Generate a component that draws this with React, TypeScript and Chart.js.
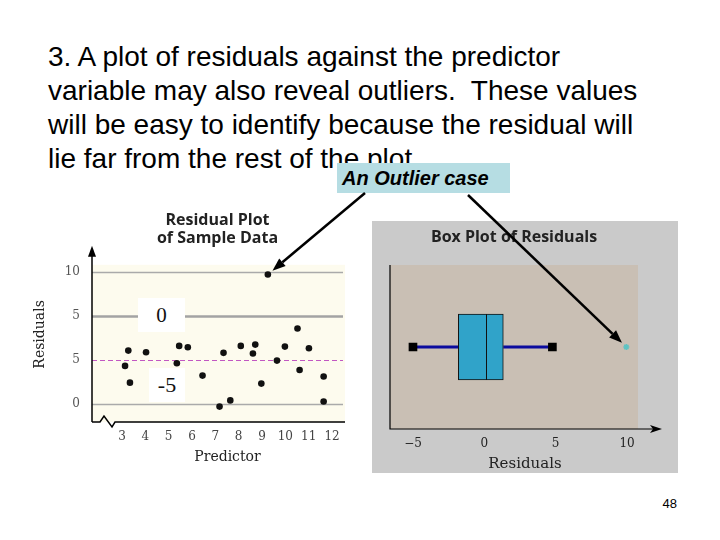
import React, { useEffect, useRef } from "react";
import { Chart, registerables } from "chart.js";
Chart.register(...registerables);

// ---------- text ----------
const headingLines = [
  "3. A plot of residuals against the predictor",
  "variable may also reveal outliers.  These values",
  "will be easy to identify because the residual will",
  "lie far from the rest of the plot.",
];
const calloutText = "An Outlier case";
const pageNumber = "48";
const residualPlotTitle = ["Residual Plot", "of Sample Data"];
const boxPlotTitle = "Box Plot of Residuals";

// ---------- residual plot data ----------
const predictor = [3.13, 3.27, 3.34, 4.03, 5.35, 5.45, 5.82, 6.45, 7.18, 7.35, 7.64, 8.09, 8.61, 8.71, 8.97, 9.25, 9.64, 9.98, 10.52, 10.61, 11.01, 11.64, 11.64];
const residuals = [-0.68, 1.06, -2.58, 0.87, -0.38, 1.59, 1.44, -1.78, -5.3, 0.8, -4.6, 1.59, 0.72, 1.74, -2.69, 9.7, -0.08, 1.51, 3.56, -1.14, 1.33, -1.89, -4.73];
const predictorTicks = [3, 4, 5, 6, 7, 8, 9, 10, 11, 12];
const residualTickValues = [-5, 0, 5, 10];
const residualTickLabels = ["0", "5", "5", "10"];
const overlayLabels = ["0", "-5"];

// ---------- box plot data ----------
const boxCategory = ["Residuals"];
const whiskerLow = [-5.0];
const quartile1 = [-1.82];
const medianValue = [0.14];
const quartile3 = [1.33];
const whiskerHigh = [4.77];
const outliers = [9.95];
const boxTickValues = [-5, 0, 5, 10];
const boxTickLabels = ["\u22125", "0", "5", "10"];

const SERIF = "'DejaVu Serif', serif";
const SANS_TITLE = "'Open Sans', 'DejaVu Sans', sans-serif";

const C1 = { left: 30, top: 205, w: 318, h: 265 };
const C2 = { left: 372, top: 221, w: 306, h: 252 };

const residualDecor = {
  id: "residualDecor",
  beforeDatasetsDraw(chart: any) {
    const { ctx, chartArea: a, scales } = chart;
    const y = scales.y;
    ctx.save();
    ctx.fillStyle = "#fdfbee";
    ctx.fillRect(a.left, a.top, a.right - a.left + 2, a.bottom - a.top);
    residualTickValues.forEach((v) => {
      const py = Math.round(y.getPixelForValue(v)) + 0.5;
      ctx.beginPath();
      if (v === 0) {
        ctx.strokeStyle = "#c257c2";
        ctx.setLineDash([5, 3]);
        ctx.lineWidth = 1;
      } else if (v === 5) {
        ctx.strokeStyle = "#a3a3a3";
        ctx.setLineDash([]);
        ctx.lineWidth = 2.5;
      } else {
        ctx.strokeStyle = "#aaaaaa";
        ctx.setLineDash([]);
        ctx.lineWidth = 1.5;
      }
      ctx.moveTo(a.left, py);
      ctx.lineTo(a.right, py);
      ctx.stroke();
    });
    ctx.setLineDash([]);
    ctx.strokeStyle = "#000";
    ctx.fillStyle = "#000";
    ctx.lineWidth = 1.5;
    ctx.beginPath();
    ctx.moveTo(a.left, a.bottom);
    ctx.lineTo(a.left, a.top - 12);
    ctx.stroke();
    ctx.beginPath();
    ctx.moveTo(a.left, a.top - 19);
    ctx.lineTo(a.left - 4, a.top - 8);
    ctx.lineTo(a.left + 4, a.top - 8);
    ctx.closePath();
    ctx.fill();
    ctx.beginPath();
    ctx.moveTo(a.left, a.bottom);
    ctx.lineTo(a.left + 8, a.bottom);
    ctx.lineTo(a.left + 12, a.bottom - 6);
    ctx.lineTo(a.left + 20, a.bottom + 5);
    ctx.lineTo(a.left + 23, a.bottom);
    ctx.lineTo(a.right + 2, a.bottom);
    ctx.stroke();
    ctx.restore();
  },
  afterDraw(chart: any) {
    const { ctx, chartArea: a } = chart;
    ctx.save();
    ctx.font = `14px ${SERIF}`;
    ctx.fillStyle = "#222";
    ctx.textAlign = "center";
    ctx.textBaseline = "middle";
    ctx.fillText("Predictor", (a.left + a.right) / 2 + 10, a.bottom + 35);
    ctx.translate(10, (a.top + a.bottom) / 2 - 9);
    ctx.rotate(-Math.PI / 2);
    ctx.fillText("Residuals", 0, 0);
    ctx.restore();
  },
};

const boxDecor = {
  id: "boxDecor",
  beforeDatasetsDraw(chart: any) {
    const { ctx, chartArea: a } = chart;
    ctx.save();
    ctx.fillStyle = "#c9bfb4";
    ctx.fillRect(a.left, a.top, a.right - a.left, a.bottom - a.top);
    ctx.strokeStyle = "#000";
    ctx.fillStyle = "#000";
    ctx.lineWidth = 1.2;
    ctx.beginPath();
    ctx.moveTo(a.left, a.top);
    ctx.lineTo(a.left, a.bottom);
    ctx.lineTo(a.right + 18, a.bottom);
    ctx.stroke();
    ctx.beginPath();
    ctx.moveTo(a.right + 24, a.bottom);
    ctx.lineTo(a.right + 12, a.bottom - 4);
    ctx.lineTo(a.right + 15, a.bottom);
    ctx.lineTo(a.right + 12, a.bottom + 4);
    ctx.closePath();
    ctx.fill();
    ctx.restore();
  },
  afterDatasetsDraw(chart: any) {
    const { ctx, scales } = chart;
    const bar: any = chart.getDatasetMeta(0).data[0];
    if (!bar) return;
    const px = Math.round(scales.x.getPixelForValue(medianValue[0])) + 0.5;
    ctx.save();
    ctx.strokeStyle = "#111";
    ctx.lineWidth = 1;
    ctx.beginPath();
    ctx.moveTo(px, bar.y - bar.height / 2);
    ctx.lineTo(px, bar.y + bar.height / 2);
    ctx.stroke();
    ctx.restore();
  },
  afterDraw(chart: any) {
    const { ctx, chartArea: a } = chart;
    ctx.save();
    ctx.font = `15px ${SERIF}`;
    ctx.fillStyle = "#222";
    ctx.textAlign = "center";
    ctx.textBaseline = "middle";
    ctx.fillText("Residuals", (a.left + a.right) / 2 + 11, a.bottom + 35);
    ctx.restore();
  },
};

function drawArrow(ctx: CanvasRenderingContext2D, x0: number, y0: number, x1: number, y1: number, gap: number) {
  const dx = x1 - x0;
  const dy = y1 - y0;
  const len = Math.hypot(dx, dy);
  const ux = dx / len;
  const uy = dy / len;
  const tx = x1 - ux * gap;
  const ty = y1 - uy * gap;
  const head = 13;
  const hw = 5;
  const bx = tx - ux * head;
  const by = ty - uy * head;
  ctx.save();
  ctx.strokeStyle = "#000";
  ctx.fillStyle = "#000";
  ctx.lineWidth = 2.5;
  ctx.beginPath();
  ctx.moveTo(x0, y0);
  ctx.lineTo(bx, by);
  ctx.stroke();
  ctx.beginPath();
  ctx.moveTo(tx, ty);
  ctx.lineTo(bx - uy * hw, by + ux * hw);
  ctx.lineTo(bx + uy * hw, by - ux * hw);
  ctx.closePath();
  ctx.fill();
  ctx.restore();
}

export default function App() {
  const c1 = useRef<HTMLCanvasElement>(null);
  const c2 = useRef<HTMLCanvasElement>(null);
  const ov = useRef<HTMLCanvasElement>(null);

  useEffect(() => {
    const ch1 = new Chart(c1.current as HTMLCanvasElement, {
      type: "scatter",
      data: {
        datasets: [
          {
            data: predictor.map((x, i) => ({ x, y: residuals[i] })),
            backgroundColor: "#111",
            borderColor: "#111",
            pointRadius: 3.3,
            pointHoverRadius: 3.3,
            borderWidth: 0,
          },
        ],
      },
      options: {
        animation: false,
        responsive: false,
        events: [],
        layout: { padding: { left: 0, right: 5, top: 0, bottom: 0 } },
        plugins: {
          legend: { display: false },
          tooltip: { enabled: false },
          title: {
            display: true,
            fullSize: false,
            text: residualPlotTitle,
            color: "#222",
            font: { family: SANS_TITLE, size: 16, weight: "bold", lineHeight: 1.15 },
            padding: { top: 6, bottom: 17 },
          },
        },
        scales: {
          x: {
            type: "linear",
            min: 1.714,
            max: 12.47,
            grid: { display: false, drawTicks: false },
            border: { display: false },
            afterBuildTicks: (s: any) => {
              s.ticks = predictorTicks.map((v) => ({ value: v }));
            },
            ticks: { font: { family: SERIF, size: 12 }, color: "#444", padding: 8, autoSkip: false, maxRotation: 0 },
            afterFit: (s: any) => {
              s.height = 48;
            },
          },
          y: {
            type: "linear",
            min: -7.05,
            max: 10.8,
            grid: { display: false, drawTicks: false },
            border: { display: false },
            afterBuildTicks: (s: any) => {
              s.ticks = residualTickValues.map((v) => ({ value: v }));
            },
            ticks: {
              font: { family: SERIF, size: 12 },
              color: "#555",
              padding: 12,
              callback: (v: any) => residualTickLabels[residualTickValues.indexOf(Number(v))],
            },
            afterFit: (s: any) => {
              s.width = 62;
            },
          },
        },
      } as any,
      plugins: [residualDecor],
    });

    const ch2 = new Chart(c2.current as HTMLCanvasElement, {
      type: "bar",
      data: {
        labels: boxCategory,
        datasets: [
          {
            type: "bar",
            data: [[quartile1[0], quartile3[0]]],
            backgroundColor: "#30a3c9",
            borderColor: "#111",
            borderWidth: 1,
            borderSkipped: false,
            barThickness: 66,
            order: 0,
          } as any,
          {
            type: "line",
            data: [
              { x: whiskerLow[0], y: boxCategory[0] },
              { x: quartile1[0], y: boxCategory[0] },
            ],
            borderColor: "#0b0b9e",
            borderWidth: 3,
            pointStyle: "rect",
            pointRadius: [4, 0],
            pointBackgroundColor: "#000",
            pointBorderColor: "#000",
            order: 1,
          } as any,
          {
            type: "line",
            data: [
              { x: quartile3[0], y: boxCategory[0] },
              { x: whiskerHigh[0], y: boxCategory[0] },
            ],
            borderColor: "#0b0b9e",
            borderWidth: 3,
            pointStyle: "rect",
            pointRadius: [0, 4],
            pointBackgroundColor: "#000",
            pointBorderColor: "#000",
            order: 1,
          } as any,
          {
            type: "line",
            showLine: false,
            data: outliers.map((x) => ({ x, y: boxCategory[0] })),
            pointStyle: "star",
            pointRadius: 3,
            borderWidth: 1.5,
            pointBorderColor: "#5fc3c3",
            pointBackgroundColor: "#8fd8d8",
            order: 1,
          } as any,
        ],
      },
      options: {
        animation: false,
        responsive: false,
        events: [],
        indexAxis: "y",
        layout: { padding: { left: 18, right: 40, top: 0, bottom: 0 } },
        plugins: {
          legend: { display: false },
          tooltip: { enabled: false },
          title: {
            display: true,
            fullSize: false,
            text: boxPlotTitle,
            color: "#222",
            font: { family: SANS_TITLE, size: 16, weight: "bold", lineHeight: 1.2 },
            padding: { top: 7, bottom: 17.8 },
          },
        },
        scales: {
          x: {
            type: "linear",
            min: -6.61,
            max: 10.77,
            grid: { display: false, drawTicks: false },
            border: { display: false },
            afterBuildTicks: (s: any) => {
              s.ticks = boxTickValues.map((v) => ({ value: v }));
            },
            ticks: {
              font: { family: SERIF, size: 12 },
              color: "#222",
              padding: 8,
              autoSkip: false,
              maxRotation: 0,
              callback: (v: any) => boxTickLabels[boxTickValues.indexOf(Number(v))],
            },
            afterFit: (s: any) => {
              s.height = 44;
            },
          },
          y: {
            type: "category",
            display: false,
            offset: true,
            grid: { display: false },
          },
        },
      } as any,
      plugins: [boxDecor],
    });

    const octx = (ov.current as HTMLCanvasElement).getContext("2d") as CanvasRenderingContext2D;
    octx.clearRect(0, 0, 720, 540);
    const outIdx = residuals.indexOf(Math.max(...residuals));
    const p1: any = ch1.getDatasetMeta(0).data[outIdx];
    const p2: any = ch2.getDatasetMeta(3).data[0];
    if (p1) drawArrow(octx, 365, 193, p1.x + C1.left, p1.y + C1.top, 6);
    if (p2) drawArrow(octx, 468, 195, p2.x + C2.left, p2.y + C2.top, 6);

    return () => {
      ch1.destroy();
      ch2.destroy();
    };
  }, []);

  return (
    <div
      style={{
        position: "absolute",
        left: 0,
        top: 0,
        width: 720,
        height: 540,
        overflow: "hidden",
        background: "#fff",
        fontFamily: "'Liberation Sans', Arial, sans-serif",
      }}
    >
      <div
        style={{
          position: "absolute",
          left: 48,
          top: 40,
          fontSize: 28,
          lineHeight: "34px",
          color: "#000",
          whiteSpace: "pre",
        }}
      >
        {headingLines.map((l, i) => (
          <div key={i}>{l}</div>
        ))}
      </div>
      <div
        style={{
          position: "absolute",
          left: 337,
          top: 163,
          width: 173,
          height: 30,
          background: "#b6dde3",
          fontSize: 20,
          fontWeight: "bold",
          fontStyle: "italic",
          lineHeight: "30px",
          paddingLeft: 5,
          boxSizing: "border-box",
          color: "#000",
          whiteSpace: "pre",
        }}
      >
        {calloutText}
      </div>
      <canvas
        ref={c1}
        width={C1.w}
        height={C1.h}
        style={{ position: "absolute", left: C1.left, top: C1.top, width: C1.w, height: C1.h }}
      />
      <canvas
        ref={c2}
        width={C2.w}
        height={C2.h}
        style={{ position: "absolute", left: C2.left, top: C2.top, width: C2.w, height: C2.h, background: "#cacaca" }}
      />
      <div
        style={{
          position: "absolute",
          left: 138,
          top: 298,
          width: 47,
          height: 34,
          background: "#fff",
          fontFamily: "'Liberation Serif', serif",
          fontSize: 21,
          lineHeight: "34px",
          textAlign: "center",
          color: "#111",
        }}
      >
        {overlayLabels[0]}
      </div>
      <div
        style={{
          position: "absolute",
          left: 149,
          top: 368,
          width: 36,
          height: 34,
          background: "#fff",
          fontFamily: "'Liberation Serif', serif",
          fontSize: 22,
          lineHeight: "34px",
          textAlign: "center",
          color: "#111",
        }}
      >
        {overlayLabels[1]}
      </div>
      <div
        style={{
          position: "absolute",
          right: 720 - 677,
          top: 496,
          fontSize: 13,
          lineHeight: "16px",
          color: "#000",
        }}
      >
        {pageNumber}
      </div>
      <canvas
        ref={ov}
        width={720}
        height={540}
        style={{ position: "absolute", left: 0, top: 0, width: 720, height: 540, pointerEvents: "none" }}
      />
    </div>
  );
}
